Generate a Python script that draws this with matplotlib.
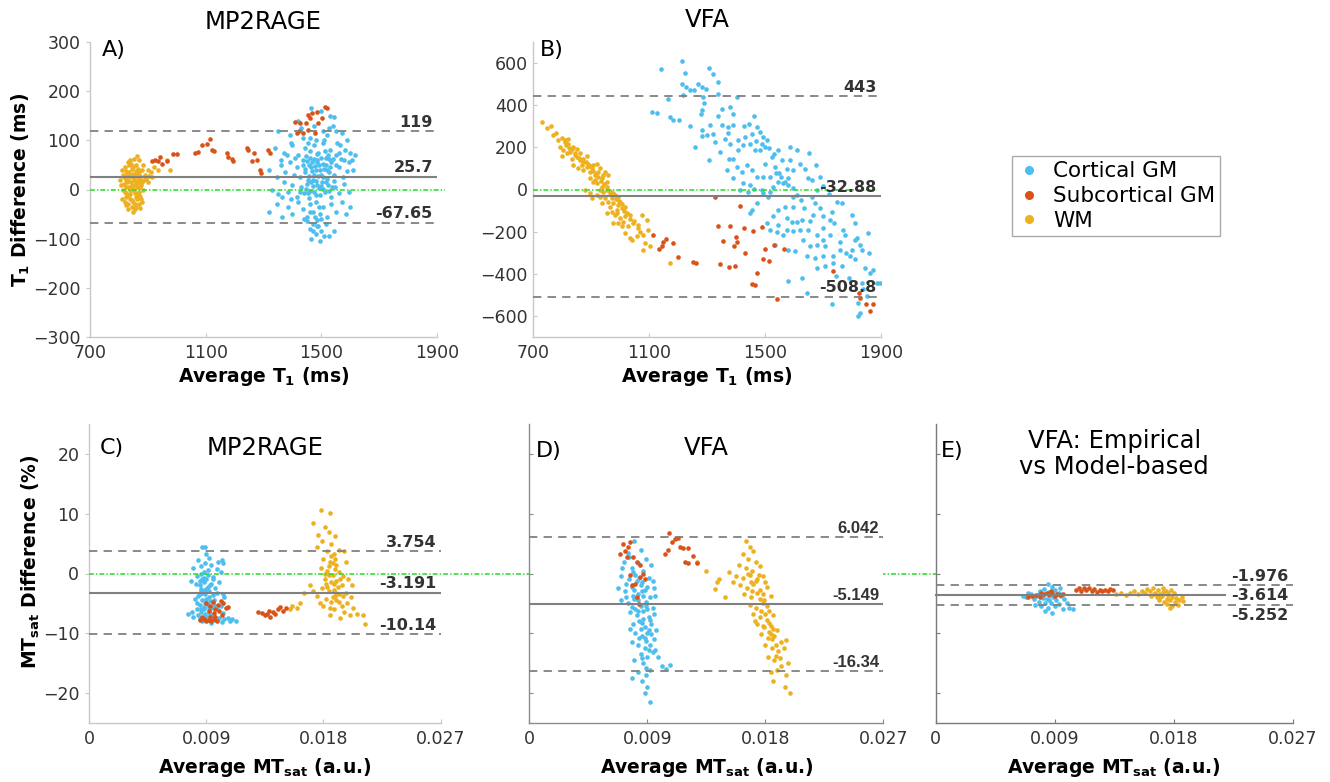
import matplotlib
matplotlib.use('Agg')
import matplotlib.pyplot as plt
from matplotlib.lines import Line2D
import numpy as np

plt.rcParams['font.family'] = ['DejaVu Sans']
plt.rcParams['lines.scale_dashes'] = False
plt.rcParams['mathtext.fontset'] = 'dejavusans'

# ---------------- colours ----------------
C_CTX = '#4DBEEE'
C_SUB = '#D95319'
C_WM = '#EDB120'
C_ZERO = '#33dd33'
C_LINE = '#808080'

group_labels = ['Cortical GM', 'Subcortical GM', 'WM']

# ---------------- Panel A : MP2RAGE T1 ----------------
A_wm = [(810,40),(815,30),(820,45),(825,20),(830,55),(835,35),(840,60),(845,25),(850,45),(855,30),(860,50),(865,15),
        (870,35),(875,20),(880,40),(808,10),(815,0),(822,-5),(828,15),(834,5),(840,-10),(846,10),(852,0),(858,-15),
        (864,5),(870,-5),(876,10),(882,0),(812,-20),(820,-25),(826,-15),(832,-30),(838,-20),(844,-35),(850,-25),
        (856,-40),(862,-20),(868,-30),(874,-15),(880,-25),(818,25),(830,-40),(848,-45),(860,-35),(835,50),(852,62),
        (842,15),(866,25),(824,-8),(856,18),(873,-38),(886,20),(890,30),(900,40),(910,35),(920,45),(935,40),(895,22),
        (905,28),(900,15),(915,25),(885,50),(870,60),(804,19),(861,68),(977,40),(965,61),(828,32),(844,42),(862,30),
        (838,-2),(850,8),(868,-12),(826,5),(856,-8),(874,28),(818,12),(824,38),(832,20),(838,28),(846,-2),(852,22),
        (858,38),(864,-12),(870,20),(876,-20),(836,-12),(844,-22),(854,-30),(860,12),(866,42),(842,52),(826,-32),
        (848,32),(872,5),(880,15)]
A_sub = [(913,57),(925,60),(942,67),(936,57),(948,52),(965,57),(988,72),(1000,72),(1063,75),(1075,77),(1086,90),
         (1103,93),(1115,102),(1121,80),(1130,78),(1173,75),(1176,67),(1190,63),(1193,57),(1242,84),(1247,80),
         (1259,57),(1268,74),(1276,60),(1288,40),(1291,33),(1317,80),(1322,75),(1409,138),(1415,114),(1426,135),
         (1438,114),(1446,135),(1455,152),(1461,145),(1467,155),(1484,158),(1490,135),(1503,145),(1513,168),
         (1518,165),(1478,114),(1455,121),(1423,118)]
A_ctx = [(1465,165),(1500,160),(1530,150),(1420,140),(1545,148),
         (1350,120),(1390,110),(1430,125),(1460,105),(1475,130),(1505,120),(1520,110),(1540,130),(1570,115),(1590,100),(1395,95),(1480,100),
         (1340,85),(1370,75),(1400,90),(1420,70),(1445,85),(1460,65),(1475,90),(1490,75),(1505,95),(1515,65),(1530,80),(1550,70),
         (1565,90),(1580,60),(1600,75),(1360,60),(1435,60),(1555,95),(1485,60),
         (1320,40),(1345,25),(1360,50),(1375,35),(1390,55),(1405,30),(1415,45),(1425,25),(1435,50),(1445,35),(1455,20),(1465,45),
         (1475,30),(1485,55),(1495,40),(1505,25),(1515,50),(1525,35),(1535,55),(1545,30),(1560,45),(1575,25),(1595,55),(1610,40),
         (1470,20),(1500,30),(1450,58),(1520,22),
         (1330,0),(1350,-10),(1370,15),(1385,-5),(1400,10),(1415,-15),(1430,5),(1440,-8),(1452,12),(1462,-3),(1472,8),(1482,-12),
         (1492,3),(1502,15),(1512,-6),(1522,10),(1535,-15),(1548,5),(1560,-8),(1578,12),(1595,-5),(1480,18),(1458,-18),
         (1320,-45),(1345,-30),(1365,-55),(1385,-35),(1400,-50),(1420,-25),(1435,-40),(1450,-55),(1460,-30),(1470,-45),(1480,-25),
         (1495,-50),(1505,-35),(1520,-55),(1535,-30),(1550,-45),(1570,-25),(1585,-50),(1600,-35),
         (1450,-65),(1460,-80),(1470,-70),(1480,-90),(1490,-75),(1500,-85),(1515,-70),(1465,-100),(1495,-105),(1525,-95),
         (1545,-85),(1440,-60),(1485,-62),(1468,38),(1488,28),(1478,48),(1458,28),(1498,8),(1508,42),(1528,62),(1538,5),
         (1442,42),(1448,68),(1456,50),(1462,78),(1468,55),(1474,62),(1482,40),(1486,72),(1492,50),(1498,65),(1506,52),
         (1512,78),(1518,40),(1524,70),(1530,45),(1540,62),(1446,2),(1454,-8),(1464,15),(1476,-5),(1486,10),(1496,-12),
         (1506,2),(1516,15),(1526,-3),(1544,18),(1552,50),(1560,75),(1568,62),(1582,80),(1590,38),(1605,60),(1615,70),
         (1365,-15),(1380,70),(1395,-20),(1410,65),(1425,-5),(1438,105),(1453,95),(1510,100),(1528,125),(1550,120),
         (1460,-45),(1478,-55),(1492,-35),(1470,-85),(1485,-75),(1500,-60),(1510,-95)]
A_stats = [119, 25.7, -67.65]
A_stat_labels = ['119', '25.7', '-67.65']

# ---------------- Panel B : VFA T1 ----------------
B_wm = [(729,320),(746,293),(767,257),(786,237),(798,246),(810,233),(821,241),(792,202),(804,186),(824,199),(838,202),
        (850,194),(798,158),(815,171),(832,147),(850,155),(861,139),(873,131),(890,123),(907,116),(919,123),(930,100),
        (948,84),(959,68),(838,116),(856,100),(873,92),(896,84),(913,68),(936,53),(953,37),(896,53),(919,29),(936,13),
        (953,-2),(879,-2),(896,-18),(919,-26),(902,-42),(930,-34),(948,-42),(965,-18),(982,-26),(994,-34),(999,-57),
        (976,-65),(936,-65),(965,-81),(988,-97),(1005,-89),(1017,-81),(953,-112),(982,-120),(999,-136),(1017,-128),
        (1034,-120),(976,-160),(1005,-175),(1028,-175),(1046,-160),(1063,-167),(1074,-120),(1092,-144),(1017,-207),
        (1034,-230),(1057,-222),(1080,-215),(1097,-191),(1040,-238),(1086,-254),(1103,-270),(1080,-285),(1172,-348),
        (827,178),(844,163),(867,116),(884,108),(902,100),(925,84),(942,68),(907,37),(930,-2),(971,-42),(959,-57),
        (994,-73),(971,-105),(1011,-152),(994,-160),(760,300),(780,270),(812,210),
        (808,225),(820,215),(835,190),(845,175),(858,150),(870,145),(882,130),(895,110),(905,90),(915,75),(925,60),
        (935,40),(945,25),(955,10),(965,-5),(975,-15),(985,-45),(995,-55),(1005,-70),(1015,-100),(1025,-110),
        (1035,-140),(1048,-150),(1060,-185),(1070,-200),(885,160),(860,175),(912,45),(940,-10),(990,-110)]
B_sub = [(1328,-34),(1414,-78),(1339,-172),(1379,-175),(1429,-183),(1458,-196),(1489,-180),(1356,-243),(1400,-227),
         (1405,-249),(1393,-270),(1430,-301),(1500,-282),(1531,-265),(1566,-282),(1494,-329),(1515,-337),(1472,-395),
         (1454,-450),(1466,-454),(1345,-354),(1376,-369),(1397,-364),(1253,-343),(1261,-348),(1201,-322),(1181,-254),
         (1158,-233),(1147,-251),(1143,-270),(1133,-282),(1112,-218),(1736,-388),(1826,-493),(1828,-513),(1849,-545),
         (1863,-576),(1874,-542),(1541,-521)]
B_ctx = [(1141,572),(1212,611),(1224,551),(1308,576),(1320,548),(1337,509),(1212,501),(1227,488),(1241,472),(1256,472),
         (1270,501),(1282,488),(1295,477),(1285,438),(1290,410),(1282,375),(1278,359),(1218,450),(1166,430),(1172,344),
         (1181,328),(1203,331),(1111,367),(1128,362),(1241,300),(1284,281),(1310,304),(1320,265),(1339,351),(1339,454),
         (1351,383),(1379,391),(1389,359),(1402,438),(1351,304),(1374,296),(1389,304),(1374,268),(1362,241),(1379,218),
         (1408,237),(1429,300),(1445,312),(1462,351),(1472,296),(1483,273),(1495,249),(1508,233),(1500,202),(1483,186),
         (1466,186),(1448,218),(1425,210),(1408,186),(1389,147),(1377,147),(1345,178),(1307,139),(1258,202),(1282,252),
         (1299,257),(1328,226),(1402,108),(1420,84),(1437,116),(1454,92),(1472,61),(1495,61),(1518,61),(1538,76),
         (1547,76),(1500,123),(1523,155),(1546,186),(1587,202),(1610,186),(1598,92),(1587,139),(1581,53),(1569,37),
         (1546,37),(1529,13),(1512,-34),(1489,-2),(1448,21),(1425,32),(1391,53),(1368,92),(1414,-2),(1443,-10),
         (1462,1),(1472,-65),(1448,-112),(1454,-97),(1495,-18),(1518,-10),(1564,29),(1579,21),(1598,5),(1598,-34),
         (1610,-26),(1623,-50),(1650,53),(1661,45),(1676,116),(1653,174),(1679,-2),(1661,-34),(1673,-65),(1635,-89),
         (1598,-81),(1569,-81),(1546,-97),(1529,-128),(1506,-160),(1546,-167),(1575,-136),(1592,-152),(1610,-152),
         (1627,-144),(1650,-191),(1667,-120),(1702,-128),(1731,-105),(1748,-57),(1765,-65),(1725,-144),(1702,-183),
         (1679,-215),(1633,-238),(1598,-199),(1575,-191),(1564,-215),(1541,-204),(1518,-191),(1535,-262),(1581,-285),
         (1604,-293),(1656,-270),(1679,-262),(1708,-270),(1725,-215),(1739,-160),(1771,-191),(1777,-215),(1800,-120),
         (1811,-160),(1817,-230),(1828,-262),(1811,-238),(1834,-285),(1857,-207),(1800,-285),(1759,-285),(1736,-317),
         (1699,-317),(1673,-325),(1644,-317),(1679,-372),(1708,-364),(1736,-348),(1765,-364),(1794,-314),(1846,-372),
         (1874,-380),(1886,-443),(1863,-395),(1834,-443),(1840,-474),(1851,-505),(1897,-443),(1823,-537),(1828,-584),
         (1823,-600),(1731,-545),(1644,-490),(1627,-419),(1581,-435),
         (1430,250),(1455,265),(1470,230),(1490,215),(1515,195),(1530,170),(1560,140),(1575,95),(1555,60),(1535,105),
         (1620,120),(1640,95),(1690,60),(1700,15),(1720,-20),(1690,-90),(1655,-150),(1620,-190),(1700,-240),(1760,-250),
         (1780,-300),(1810,-330),(1860,-300),(1745,-410),(1790,-420)]
B_stats = [443, -32.88, -508.8]
B_stat_labels = ['443', '-32.88', '-508.8']

# ---------------- Panel C : MP2RAGE MTsat ----------------
C_ctx = [(0.0087,4.5),(0.0089,4.4),(0.0090,3.2),(0.0084,2.3),(0.0092,2.6),(0.0094,1.5),(0.0080,1.0),(0.0086,1.2),
         (0.0099,2.0),(0.0102,2.2),(0.0103,1.7),(0.0098,0.8),(0.0083,-0.5),(0.0088,0.2),(0.0091,-0.3),(0.0095,-0.6),
         (0.0101,0.2),(0.0078,-1.2),(0.0082,-1.8),(0.0085,-2.0),(0.0088,-1.5),(0.0091,-2.2),(0.0094,-1.8),(0.0097,-2.5),
         (0.0100,-1.4),(0.0086,-3.0),(0.0089,-3.4),(0.0092,-3.0),(0.0095,-3.6),(0.0084,-3.8),(0.0098,-3.2),(0.0103,-3.5),
         (0.0081,-4.2),(0.0087,-4.5),(0.0090,-4.2),(0.0093,-4.6),(0.0096,-4.4),(0.0085,-5.2),(0.0088,-5.6),(0.0091,-5.3),
         (0.0094,-5.8),(0.0083,-6.0),(0.0086,-6.5),(0.0089,-6.8),(0.0092,-6.4),(0.0079,-6.4),(0.0076,-6.8),(0.0095,-7.0),
         (0.0088,-7.4),(0.0091,-7.8),(0.0085,-7.6),(0.0097,-7.8),(0.0100,-7.5),(0.0104,-7.6),(0.0107,-7.4),(0.0110,-7.6),
         (0.0113,-7.9),(0.0108,-8.0),(0.0102,-8.1),(0.0094,-8.2),(0.0087,-8.0),(0.0080,-7.2),(0.0090,-0.9),(0.0086,-2.6),
         (0.0104,-4.0),(0.0101,-5.5),(0.0103,-6.6),(0.0083,-4.9),(0.0098,-6.0),(0.0087,-1.0),(0.0089,-2.8),(0.0090,-5.0),
         (0.0085,-3.5),(0.0092,-4.0),(0.0088,-6.0),(0.0084,-7.0),
         (0.0086,-5.9),(0.0089,-4.9),(0.0092,-5.7),(0.0087,-3.2),(0.0090,-2.6),(0.0093,-2.0),(0.0085,-1.2),(0.0088,-0.8),
         (0.0091,0.6),(0.0086,0.0),(0.0089,1.7),(0.0093,-6.9),(0.0090,-7.2),(0.0086,-7.4),(0.0096,-5.2),(0.0095,-1.0)]
C_sub = [(0.0085,-7.8),(0.0088,-7.6),(0.0090,-8.0),(0.0092,-7.7),(0.0094,-7.9),(0.0096,-7.6),(0.0098,-7.9),(0.0087,-7.2),
         (0.0093,-7.3),(0.0097,-7.2),(0.0090,-5.0),(0.0093,-5.5),(0.0095,-4.8),(0.0097,-6.0),(0.0099,-5.3),(0.0101,-4.6),
         (0.0103,-5.0),(0.0105,-5.8),(0.0100,-6.3),(0.0092,-6.2),(0.0096,-6.6),(0.0107,-5.6),(0.0102,-7.0),
         (0.0130,-6.4),(0.0133,-6.6),(0.0135,-7.0),(0.0137,-6.8),(0.0139,-7.3),(0.0141,-6.5),(0.0143,-6.8),(0.0145,-6.0),
         (0.0147,-5.6),(0.0149,-6.2),(0.0151,-5.8),(0.0138,-6.2)]
C_wm = [(0.0178,10.7),(0.0185,10.2),(0.0172,8.4),(0.0181,7.8),(0.0184,7.0),(0.0176,6.5),(0.0189,6.2),(0.0179,5.5),
        (0.0186,5.0),(0.0192,4.0),(0.0175,4.5),(0.0183,3.8),(0.0188,3.2),(0.0196,3.8),(0.0180,2.5),(0.0185,2.0),
        (0.0190,1.5),(0.0197,2.0),(0.0178,1.0),(0.0183,0.5),(0.0187,-0.2),(0.0192,0.3),(0.0195,-0.5),(0.0181,-1.0),
        (0.0186,-1.5),(0.0190,-1.2),(0.0194,-2.0),(0.0199,-1.0),(0.0202,-2.0),(0.0179,-2.5),(0.0184,-3.0),(0.0188,-2.8),
        (0.0192,-3.5),(0.0197,-3.2),(0.0201,-4.0),(0.0175,-3.8),(0.0182,-4.2),(0.0186,-4.8),(0.0190,-4.5),(0.0194,-5.5),
        (0.0198,-5.0),(0.0203,-5.8),(0.0180,-5.5),(0.0188,-6.0),(0.0196,-6.5),(0.0206,-6.8),(0.0210,-7.0),(0.0212,-8.4),
        (0.0170,-2.0),(0.0165,-3.2),(0.0162,-5.0),(0.0160,-5.8),(0.0172,-3.0),(0.0177,-5.0),(0.0185,-7.0),(0.0193,-7.5),
        (0.0200,-7.0),(0.0189,0.8),(0.0184,-0.3),(0.0191,-2.3),(0.0154,-6.0),(0.0156,-5.5),(0.0187,1.8),(0.0182,-1.8),
        (0.0189,-3.8),(0.0185,-5.8),(0.0193,-1.0),
        (0.0186,3.0),(0.0188,-1.8),(0.0190,-3.2),(0.0183,-2.2),(0.0187,-4.0),(0.0192,-4.8),(0.0181,0.0),(0.0195,-3.8),
        (0.0189,2.4),(0.0184,1.2)]
C_stats = [3.754, -3.191, -10.14]
C_stat_labels = ['3.754', '-3.191', '-10.14']

# ---------------- Panel D : VFA MTsat ----------------
D_ctx = [(0.0080,5.5),(0.0085,4.0),(0.0075,3.5),(0.0089,2.5),(0.0072,2.0),(0.0078,1.0),(0.0083,1.8),(0.0087,0.5),
         (0.0093,1.5),(0.0070,-0.5),(0.0076,-1.0),(0.0081,-0.2),(0.0086,-1.5),(0.0091,-0.8),(0.0095,-2.5),(0.0068,-2.5),
         (0.0073,-3.0),(0.0078,-2.2),(0.0083,-3.5),(0.0088,-2.8),(0.0092,-4.0),(0.0096,-3.8),(0.0070,-4.5),(0.0075,-5.0),
         (0.0080,-4.2),(0.0085,-5.5),(0.0089,-4.8),(0.0094,-5.8),(0.0077,-6.5),(0.0082,-7.0),(0.0087,-6.2),(0.0091,-7.2),
         (0.0095,-6.8),(0.0079,-8.5),(0.0084,-8.0),(0.0088,-9.0),(0.0093,-8.5),(0.0097,-9.5),(0.0081,-10.0),(0.0086,-10.5),
         (0.0090,-10.0),(0.0095,-11.0),(0.0078,-11.5),(0.0083,-12.0),(0.0088,-12.5),(0.0092,-12.0),(0.0085,-13.5),
         (0.0090,-14.0),(0.0094,-13.2),(0.0080,-14.5),(0.0087,-15.0),(0.0098,-14.0),(0.0101,-15.5),(0.0104,-16.0),
         (0.0107,-15.3),(0.0083,-16.5),(0.0089,-17.0),(0.0092,-16.2),(0.0086,-18.0),(0.0090,-19.0),(0.0088,-20.0),
         (0.0092,-21.5),(0.0078,-17.5),(0.0096,-12.8),(0.0074,-1.8),(0.0084,-0.8),(0.0079,-3.8),(0.0090,-6.0),
         (0.0086,-8.2),(0.0083,-4.5),(0.0071,1.0),(0.0094,-1.2),(0.0089,-11.3),(0.0085,-2.0),(0.0077,-9.2),
         (0.0074,-4.0),(0.0081,-6.0),(0.0087,-3.8),(0.0091,-9.5),(0.0084,-10.8),(0.0079,0.3),(0.0076,2.8),
         (0.0082,-1.2),(0.0086,-3.0),(0.0089,-5.5),(0.0092,-7.8),(0.0085,-9.3),(0.0088,-10.8),(0.0091,-12.8),
         (0.0086,-14.2),(0.0089,-15.8),(0.0080,-2.8),(0.0083,-6.3),(0.0087,-7.6),(0.0090,-2.2),(0.0078,-5.6),
         (0.0093,-10.2)]
D_sub = [(0.00717,4.9),(0.00692,3.3),(0.00755,4.4),(0.00768,5.2),(0.00730,3.8),(0.00793,2.7),(0.00819,1.9),
         (0.00844,1.4),(0.00870,-0.1),(0.00882,-0.9),(0.00844,-0.6),(0.00806,-1.7),(0.00781,-2.0),(0.00819,-3.9),
         (0.00839,-5.1),(0.00768,-0.3),(0.00743,2.7),(0.01035,3.3),(0.01060,4.0),(0.01068,6.8),(0.01086,5.2),
         (0.01111,5.7),(0.01137,5.9),(0.01149,4.4),(0.01175,4.2),(0.01213,4.2),(0.01187,1.9),(0.01213,1.8),
         (0.01251,3.0),(0.01276,1.8)]
D_wm = [(0.0165,5.5),(0.0168,4.5),(0.0171,3.8),(0.0163,3.2),(0.0167,2.5),(0.0173,2.0),(0.0160,1.5),(0.0165,1.0),
        (0.0170,0.5),(0.0176,1.2),(0.0158,-0.5),(0.0163,-0.8),(0.0168,-0.2),(0.0173,-1.2),(0.0178,-0.5),(0.0155,-1.5),
        (0.0161,-2.0),(0.0166,-2.5),(0.0171,-1.8),(0.0176,-2.8),(0.0181,-2.2),(0.0164,-3.5),(0.0169,-4.0),(0.0174,-3.2),
        (0.0179,-4.5),(0.0184,-3.8),(0.0168,-5.2),(0.0173,-5.8),(0.0178,-5.0),(0.0183,-6.2),(0.0171,-6.8),(0.0176,-7.2),
        (0.0181,-7.8),(0.0186,-7.0),(0.0174,-8.5),(0.0179,-9.0),(0.0184,-8.8),(0.0189,-9.5),(0.0177,-10.2),(0.0182,-10.8),
        (0.0187,-10.5),(0.0192,-11.5),(0.0196,-11.2),(0.0180,-12.0),(0.0185,-12.5),(0.0190,-13.0),(0.0194,-12.5),
        (0.0182,-14.0),(0.0187,-14.5),(0.0192,-15.5),(0.0197,-15.0),(0.0184,-16.5),(0.0189,-16.2),(0.0196,-17.0),
        (0.0195,-19.0),(0.0199,-20.0),(0.0186,-18.0),(0.0175,-0.3),(0.0170,-3.0),(0.0177,-6.3),(0.0183,-9.8),
        (0.0188,-12.0),(0.0180,-1.5),(0.0172,-8.0),(0.0135,0.5),(0.0143,-1.4),(0.0145,-0.9),(0.0142,-2.6),
        (0.0149,-3.9),(0.0152,0.2),(0.0128,2.0),(0.0178,-3.5),(0.0181,-5.5),(0.0185,-11.0),(0.0167,0.0),
        (0.0176,-4.2),(0.0180,-6.8),(0.0183,-8.2),(0.0186,-9.2),(0.0188,-13.8),(0.0191,-14.2),(0.0174,-1.0),
        (0.0169,-1.5),(0.0178,-8.8),(0.0184,-10.2)]
D_stats = [6.042, -5.149, -16.34]
D_stat_labels = ['6.042', '-5.149', '-16.34']

# ---------------- Panel E : VFA empirical vs model-based ----------------
E_ctx = [(0.0085,-1.8),(0.0088,-2.2),(0.0082,-2.6),(0.0090,-2.8),(0.0079,-3.0),(0.0086,-3.1),(0.0093,-3.3),(0.0072,-3.5),
         (0.0076,-3.8),(0.0081,-3.6),(0.0089,-3.9),(0.0095,-3.7),(0.0068,-4.0),(0.0074,-4.3),(0.0084,-4.2),(0.0091,-4.5),
         (0.0097,-4.2),(0.0078,-4.7),(0.0087,-4.9),(0.0093,-5.1),(0.0099,-5.0),(0.0080,-5.4),(0.0085,-5.7),(0.0090,-5.5),
         (0.0101,-5.8),(0.0096,-5.9),(0.0083,-6.2),(0.0088,-6.6),(0.0075,-5.2),(0.0070,-3.2),(0.0094,-2.5),(0.0104,-5.9),
         (0.0066,-3.8),(0.0081,-4.1),(0.0092,-3.5),(0.0086,-4.4),(0.0078,-3.4),(0.0083,-5.0)]
E_sub = [(0.0070,-4.0),(0.0073,-3.8),(0.0076,-3.6),(0.0079,-3.9),(0.0082,-3.5),(0.0084,-3.2),(0.0086,-3.6),(0.0088,-3.3),
         (0.0090,-3.7),(0.0092,-3.4),(0.0094,-3.6),(0.0096,-3.5),(0.0080,-3.3),(0.0087,-2.9),
         (0.0106,-2.8),(0.0108,-2.5),(0.0110,-2.9),(0.0112,-2.4),(0.0114,-2.7),(0.0116,-2.5),(0.0118,-2.9),(0.0120,-2.6),
         (0.0122,-3.1),(0.0124,-2.8),(0.0126,-3.0),(0.0128,-2.7),(0.0130,-2.9),(0.0132,-2.6),(0.0134,-2.8)]
E_wm = [(0.0136,-3.5),(0.0140,-3.3),(0.0144,-3.6),(0.0147,-3.2),(0.0150,-3.0),(0.0153,-3.4),(0.0156,-2.9),(0.0158,-3.2),
        (0.0160,-2.6),(0.0162,-3.0),(0.0164,-2.4),(0.0166,-3.3),(0.0168,-2.7),(0.0170,-3.5),(0.0172,-2.5),(0.0174,-3.0),
        (0.0176,-3.6),(0.0178,-2.8),(0.0163,-3.7),(0.0167,-4.0),(0.0171,-3.8),(0.0175,-4.2),(0.0179,-3.9),(0.0182,-4.1),
        (0.0169,-4.4),(0.0173,-4.7),(0.0177,-4.5),(0.0181,-4.8),(0.0184,-4.4),(0.0175,-5.1),(0.0179,-5.4),(0.0183,-5.2),
        (0.0177,-5.8),(0.0187,-4.6),(0.0165,-3.4),(0.0180,-3.2),(0.0172,-3.1),(0.0186,-3.9),(0.0170,-4.0),(0.0176,-3.3)]
E_stats = [-1.976, -3.614, -5.252]
E_stat_labels = ['-1.976', '-3.614', '-5.252']
E_mean_line_end = 0.0219       # solid mean line in E stops before its label
zero_line_end_E = 0.019        # green zero line of the bottom row ends here (E data units)

# ---------------- axes settings ----------------
T1_xlim = (700, 1900)
T1_xticks = [700, 1100, 1500, 1900]
A_ylim = (-300, 300)
A_yticks = [-300, -200, -100, 0, 100, 200, 300]
B_ylim = (-700, 700)
B_yticks = [-600, -400, -200, 0, 200, 400, 600]
MT_xlim = (0, 0.027)
MT_xticks = [0, 0.009, 0.018, 0.027]
MT_xticklabels = ['0', '0.009', '0.018', '0.027']
MT_ylim = (-25, 25)
MT_yticks = [-20, -10, 0, 10, 20]

fig = plt.figure(figsize=(13.3, 7.82), dpi=100)
W, H = 1330.0, 782.0


def rect(l, r, t, b):
    return [l / W, 1 - b / H, (r - l) / W, (b - t) / H]


axA = fig.add_axes(rect(90, 437, 42, 337))
axB = fig.add_axes(rect(533.3, 880.7, 42, 337))
axC = fig.add_axes(rect(89, 440.7, 424, 723))
axD = fig.add_axes(rect(529.3, 883.3, 424, 723))
axE = fig.add_axes(rect(935.7, 1292.7, 424, 723))

TICK_FS = 12.5
LAB_FS = 13.5
DASH_DOT = (3.5, 1.5, 1, 1.5)


def style(ax, spine_col, ydir):
    for s in ['top', 'right']:
        ax.spines[s].set_visible(False)
    for s in ['left', 'bottom']:
        ax.spines[s].set_color(spine_col)
        ax.spines[s].set_linewidth(1.0)
    ax.tick_params(axis='x', direction='in', length=3, color=spine_col, labelsize=TICK_FS,
                   labelcolor='#333333', pad=5)
    ax.tick_params(axis='y', direction=ydir, length=3, color=spine_col, labelsize=TICK_FS,
                   labelcolor='#333333', pad=4)


def scatter_groups(ax, ctx, sub, wm):
    for pts, col in [(ctx, C_CTX), (wm, C_WM), (sub, C_SUB)]:
        a = np.array(pts, dtype=float)
        ax.scatter(a[:, 0], a[:, 1], s=11, color=col, linewidths=0, zorder=2)


def stat_lines(ax, stats, mean_end=None):
    up, mean, low = stats
    for v in (up, low):
        ax.axhline(v, color=C_LINE, lw=1.3, dashes=(6, 4.5), zorder=3)
    if mean_end is None:
        ax.axhline(mean, color=C_LINE, lw=1.5, zorder=3)
    else:
        ax.plot([ax.get_xlim()[0], mean_end], [mean, mean], color=C_LINE, lw=1.5, zorder=3,
                clip_on=False)


def stat_text(ax, stats, labels, font=None, fs=11.5, positions=('b', 'b', 'b')):
    kw = dict(fontsize=fs, fontweight='bold', color='#333333', zorder=4)
    if font:
        kw['family'] = font
    for v, lab, p in zip(stats, labels, positions):
        if p == 'b':
            ax.annotate(lab, xy=(1, v), xycoords=('axes fraction', 'data'), xytext=(-3, 1),
                        textcoords='offset points', ha='right', va='bottom', **kw)
        elif p == 'c':
            ax.annotate(lab, xy=(1, v), xycoords=('axes fraction', 'data'), xytext=(-3, 0),
                        textcoords='offset points', ha='right', va='center', **kw)
        else:
            ax.annotate(lab, xy=(1, v), xycoords=('axes fraction', 'data'), xytext=(-3, -2),
                        textcoords='offset points', ha='right', va='top', **kw)


def xlabel(ax, text, y):
    ax.set_xlabel(text, fontsize=LAB_FS, fontweight='bold')
    ax.xaxis.label.set_verticalalignment('center')
    ax.xaxis.set_label_coords(0.5, y)


# ---------- A ----------
axA.set_xlim(*T1_xlim); axA.set_ylim(*A_ylim)
axA.set_xticks(T1_xticks); axA.set_yticks(A_yticks)
style(axA, '#c8c8c8', 'out')
scatter_groups(axA, A_ctx, A_sub, A_wm)
stat_lines(axA, A_stats)
axA.plot([700, 1928], [0, 0], color=C_ZERO, lw=1.2, dashes=DASH_DOT, zorder=3, clip_on=False)
stat_text(axA, A_stats, A_stat_labels)
axA.set_ylabel(r'$\mathbf{T_1}$ Difference (ms)', fontsize=LAB_FS, fontweight='bold')
axA.yaxis.set_label_coords(-0.166, 0.5)
xlabel(axA, r'Average $\mathbf{T_1}$ (ms)', -0.135)
axA.text(0.5, 1.068, 'MP2RAGE', transform=axA.transAxes, ha='center', va='center', fontsize=17.5)
axA.text(0.035, 0.973, 'A)', transform=axA.transAxes, ha='left', va='center', fontsize=16)

# ---------- B ----------
axB.set_xlim(*T1_xlim); axB.set_ylim(*B_ylim)
axB.set_xticks(T1_xticks); axB.set_yticks(B_yticks)
style(axB, '#c8c8c8', 'in')
scatter_groups(axB, B_ctx, B_sub, B_wm)
axB.plot([700, 1888], [0, 0], color=C_ZERO, lw=1.2, dashes=DASH_DOT, zorder=3)
stat_lines(axB, B_stats)
stat_text(axB, B_stats, B_stat_labels)
xlabel(axB, r'Average $\mathbf{T_1}$ (ms)', -0.135)
axB.text(0.5, 1.075, 'VFA', transform=axB.transAxes, ha='center', va='center', fontsize=17.5)
axB.text(0.019, 0.973, 'B)', transform=axB.transAxes, ha='left', va='center', fontsize=16)

# ---------- C / D / E ----------
for ax, col, ydir in [(axC, '#c8c8c8', 'out'), (axD, '#8c8c8c', 'in'), (axE, '#7a7a7a', 'in')]:
    ax.set_xlim(*MT_xlim); ax.set_ylim(*MT_ylim)
    ax.set_xticks(MT_xticks); ax.set_xticklabels(MT_xticklabels)
    ax.set_yticks(MT_yticks)
    style(ax, col, ydir)
    xlabel(ax, r'Average $\mathbf{MT_{sat}}$ (a.u.)', -0.148)
axD.tick_params(axis='y', labelleft=False)
axE.tick_params(axis='y', labelleft=False)

scatter_groups(axC, C_ctx, C_sub, C_wm)
stat_lines(axC, C_stats)
stat_text(axC, C_stats, C_stat_labels)
axC.set_ylabel(r'$\mathbf{MT_{sat}}$ Difference (%)', fontsize=LAB_FS, fontweight='bold')
axC.yaxis.set_label_coords(-0.134, 0.54)
axC.text(0.5, 0.92, 'MP2RAGE', transform=axC.transAxes, ha='center', va='center', fontsize=17.5)
axC.text(0.031, 0.92, 'C)', transform=axC.transAxes, ha='left', va='center', fontsize=16)

scatter_groups(axD, D_ctx, D_sub, D_wm)
stat_lines(axD, D_stats)
stat_text(axD, D_stats, D_stat_labels, font='Liberation Sans', fs=12)
axD.text(0.5, 0.92, 'VFA', transform=axD.transAxes, ha='center', va='center', fontsize=17.5)
axD.text(0.019, 0.91, 'D)', transform=axD.transAxes, ha='left', va='center', fontsize=16)

scatter_groups(axE, E_ctx, E_sub, E_wm)
stat_lines(axE, E_stats, mean_end=E_mean_line_end)
stat_text(axE, E_stats, E_stat_labels, positions=('b', 'c', 't'))
axE.text(0.5, 0.9, 'VFA: Empirical\nvs Model-based', transform=axE.transAxes, ha='center', va='center',
         fontsize=17.5, linespacing=1.1)
axE.text(0.014, 0.91, 'E)', transform=axE.transAxes, ha='left', va='center', fontsize=16)

# green zero line running across the whole bottom row (C -> E)
end_disp = axE.transData.transform((zero_line_end_E, 0))
end_C = axC.transData.inverted().transform(end_disp)
axC.plot([MT_xlim[0], end_C[0]], [0, 0], color=C_ZERO, lw=1.2, dashes=DASH_DOT, zorder=3,
         clip_on=False)

# ---------- legend ----------
handles = [Line2D([], [], marker='o', ls='none', color=c, markersize=5.5) for c in (C_CTX, C_SUB, C_WM)]
leg = fig.legend(handles, group_labels, loc='upper left', bbox_to_anchor=(1012 / W, 1 - 156 / H),
                 fontsize=15.5, frameon=True, fancybox=False, edgecolor='#aaaaaa', framealpha=1,
                 labelspacing=0.22, borderpad=0.25, handlelength=1.1, handletextpad=0.55, borderaxespad=0)
leg.get_frame().set_linewidth(1.0)

fig.savefig('out.png', dpi=100)
